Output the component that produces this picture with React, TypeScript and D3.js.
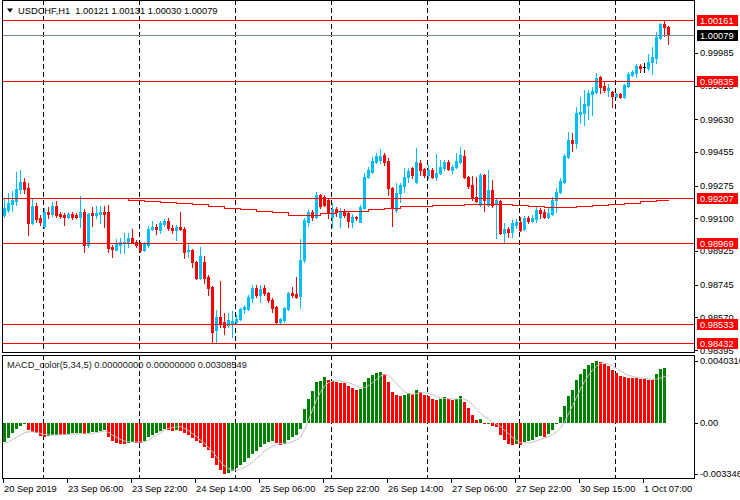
import React from "react";
import * as d3 from "d3";

const titleSymbol = "USDCHF,H1";
const titleOhlc = ["1.00121", "1.00131", "1.00030", "1.00079"];
const macdTitle = "MACD_color(5,34,5) 0.00000000 0.00000000 0.00308549";

const opens = [
  0.99118,0.99145,0.99177,0.99193,0.99257,0.99295,0.99263,0.99075,0.99166,0.99102,
  0.99059,0.99134,0.99124,0.99166,0.99124,0.99118,0.99108,0.99124,0.99118,0.99108,
  0.99134,0.98958,0.99129,0.99118,0.99124,0.99134,0.99134,0.98947,0.98931,0.98958,
  0.98968,0.98968,0.98995,0.98974,0.98963,0.98931,0.98958,0.99043,0.99054,0.99038,
  0.99070,0.99086,0.99049,0.99038,0.99054,0.99043,0.98926,0.98931,0.98867,0.98781,
  0.98867,0.98787,0.98733,0.98503,0.98573,0.98546,0.98530,0.98541,0.98546,0.98562,
  0.98615,0.98615,0.98674,0.98728,0.98690,0.98728,0.98701,0.98664,0.98626,0.98546,
  0.98557,0.98615,0.98701,0.98696,0.98685,0.98878,0.99081,0.99134,0.99108,0.99225,
  0.99214,0.99198,0.99108,0.99150,0.99108,0.99140,0.99129,0.99081,0.99108,0.99081,
  0.99156,0.99321,0.99348,0.99402,0.99412,0.99439,0.99407,0.99263,0.99145,0.99236,
  0.99273,0.99321,0.99370,0.99295,0.99396,0.99364,0.99332,0.99359,0.99321,0.99343,
  0.99370,0.99402,0.99359,0.99375,0.99402,0.99434,0.99321,0.99279,0.99214,0.99172,
  0.99332,0.99172,0.99252,0.99182,0.99193,0.99022,0.99043,0.99027,0.99065,0.99081,
  0.99043,0.99102,0.99086,0.99097,0.99145,0.99134,0.99108,0.99124,0.99198,0.99241,
  0.99295,0.99428,0.99519,0.99503,0.99658,0.99664,0.99706,0.99765,0.99776,0.99856,
  0.99808,0.99787,0.99776,0.99755,0.99765,0.99749,0.99808,0.99867,0.99878,0.99915,
  0.99910,0.99904,0.99936,0.99958,1.00065,1.00140,1.00121,
];
const highs = [
  0.99204,0.99236,0.99247,0.99348,0.99359,0.99316,0.99289,0.99209,0.99182,0.99118,
  0.99156,0.99161,0.99188,0.99193,0.99134,0.99129,0.99134,0.99134,0.99129,0.99220,
  0.99150,0.99129,0.99161,0.99166,0.99166,0.99166,0.99172,0.98958,0.98990,0.98995,
  0.99022,0.99022,0.99043,0.98984,0.98974,0.98974,0.99059,0.99086,0.99070,0.99086,
  0.99097,0.99102,0.99065,0.99065,0.99134,0.99054,0.98963,0.98936,0.98872,0.98947,
  0.98899,0.98797,0.98738,0.98610,0.98765,0.98594,0.98594,0.98605,0.98583,0.98621,
  0.98637,0.98690,0.98744,0.98744,0.98744,0.98744,0.98706,0.98674,0.98631,0.98567,
  0.98626,0.98706,0.98733,0.98787,0.98990,0.99102,0.99145,0.99145,0.99241,0.99231,
  0.99225,0.99209,0.99182,0.99161,0.99156,0.99150,0.99134,0.99124,0.99113,0.99172,
  0.99343,0.99375,0.99428,0.99450,0.99471,0.99450,0.99423,0.99268,0.99289,0.99289,
  0.99370,0.99370,0.99375,0.99476,0.99412,0.99370,0.99386,0.99370,0.99444,0.99412,
  0.99412,0.99412,0.99386,0.99450,0.99482,0.99466,0.99327,0.99327,0.99321,0.99343,
  0.99337,0.99359,0.99305,0.99204,0.99198,0.99075,0.99054,0.99091,0.99097,0.99108,
  0.99113,0.99113,0.99118,0.99161,0.99156,0.99150,0.99156,0.99214,0.99263,0.99316,
  0.99444,0.99562,0.99557,0.99696,0.99749,0.99787,0.99787,0.99803,0.99878,0.99862,
  0.99829,0.99819,0.99781,0.99771,0.99771,0.99819,0.99883,0.99894,0.99926,0.99926,
  0.99931,0.99979,1.00017,1.00097,1.00145,1.00161,1.00131,
];
const lows = [
  0.99108,0.99134,0.99140,0.99172,0.99236,0.99236,0.99011,0.99070,0.99081,0.99065,
  0.99049,0.99102,0.99113,0.99108,0.99102,0.99065,0.99102,0.99097,0.99102,0.99054,
  0.98920,0.98947,0.99059,0.99102,0.99075,0.99054,0.98920,0.98894,0.98931,0.98915,
  0.98915,0.98947,0.98968,0.98947,0.98920,0.98926,0.98947,0.99038,0.99017,0.99022,
  0.99059,0.99038,0.99022,0.98984,0.99038,0.98888,0.98894,0.98840,0.98776,0.98776,
  0.98755,0.98690,0.98434,0.98432,0.98519,0.98482,0.98519,0.98466,0.98541,0.98557,
  0.98594,0.98610,0.98653,0.98680,0.98653,0.98690,0.98653,0.98599,0.98535,0.98541,
  0.98546,0.98610,0.98680,0.98674,0.98621,0.98867,0.99059,0.99091,0.99102,0.99156,
  0.99166,0.99102,0.99054,0.99113,0.99054,0.99108,0.99054,0.99054,0.99091,0.99081,
  0.99150,0.99316,0.99343,0.99396,0.99396,0.99386,0.99225,0.99059,0.99134,0.99188,
  0.99241,0.99295,0.99316,0.99289,0.99332,0.99321,0.99316,0.99316,0.99305,0.99337,
  0.99359,0.99359,0.99343,0.99370,0.99396,0.99316,0.99263,0.99198,0.99188,0.99166,
  0.99140,0.99166,0.99161,0.98995,0.99017,0.98968,0.99001,0.99001,0.99049,0.99033,
  0.99038,0.99075,0.99081,0.99081,0.99102,0.99102,0.99102,0.99118,0.99134,0.99236,
  0.99289,0.99423,0.99460,0.99476,0.99610,0.99600,0.99632,0.99653,0.99771,0.99771,
  0.99776,0.99755,0.99696,0.99749,0.99744,0.99744,0.99803,0.99862,0.99856,0.99883,
  0.99883,0.99894,0.99872,0.99931,1.00059,1.00075,1.00030,
];
const closes = [
  0.99156,0.99182,0.99198,0.99257,0.99295,0.99257,0.99075,0.99166,0.99097,0.99081,
  0.99134,0.99124,0.99166,0.99118,0.99113,0.99108,0.99124,0.99108,0.99108,0.99134,
  0.98958,0.99124,0.99118,0.99129,0.99134,0.99124,0.98942,0.98936,0.98968,0.98974,
  0.98974,0.98995,0.98974,0.98958,0.98931,0.98968,0.99043,0.99054,0.99043,0.99075,
  0.99086,0.99049,0.99038,0.99054,0.99043,0.98920,0.98931,0.98867,0.98781,0.98899,
  0.98781,0.98728,0.98492,0.98573,0.98541,0.98519,0.98557,0.98551,0.98562,0.98615,
  0.98626,0.98680,0.98728,0.98690,0.98722,0.98701,0.98664,0.98621,0.98546,0.98562,
  0.98621,0.98701,0.98690,0.98680,0.98878,0.99091,0.99134,0.99108,0.99225,0.99166,
  0.99172,0.99134,0.99150,0.99134,0.99140,0.99118,0.99086,0.99108,0.99102,0.99161,
  0.99321,0.99359,0.99407,0.99434,0.99434,0.99402,0.99263,0.99156,0.99236,0.99279,
  0.99321,0.99354,0.99332,0.99402,0.99359,0.99332,0.99359,0.99321,0.99343,0.99375,
  0.99402,0.99364,0.99375,0.99407,0.99439,0.99321,0.99273,0.99209,0.99193,0.99332,
  0.99198,0.99252,0.99172,0.99198,0.99022,0.99043,0.99027,0.99075,0.99081,0.99038,
  0.99102,0.99086,0.99102,0.99145,0.99129,0.99108,0.99129,0.99198,0.99241,0.99300,
  0.99434,0.99519,0.99503,0.99664,0.99669,0.99712,0.99771,0.99781,0.99851,0.99803,
  0.99787,0.99797,0.99755,0.99765,0.99749,0.99813,0.99872,0.99883,0.99915,0.99904,
  0.99910,0.99936,0.99963,1.00070,1.00140,1.00121,1.00079,
];

const priceTicks = [0.99985, 0.9981, 0.9963, 0.99455, 0.99275, 0.991, 0.98925, 0.98745, 0.9857, 0.98395];
const levelLines = [1.00161, 0.99835, 0.99207, 0.98969, 0.98533, 0.98432];
const bidPrice = 1.00079;

const maBars = [27,31,35,39,43,47,51,55,59,63,67,71,75,79,83,87,91,95,99,103,107,111,115,119,123,127,131,135,139,143,147,151,155,159,163,166];
const maValues = [
  0.99204,0.99195,0.99189,0.99186,0.99181,0.99172,0.99161,0.99153,0.99145,0.99137,
  0.99129,0.99118,0.99115,0.99126,0.99136,0.99136,0.99145,0.99154,0.99161,0.99165,
  0.99170,0.99170,0.99175,0.99175,0.99175,0.99170,0.99163,0.99157,0.99156,0.99161,
  0.99168,0.99175,0.99182,0.99190,0.99197,0.99201,
];

const histValues = [
  -0.00124,-0.00102,-0.00070,-0.00044,-0.00022,-0.00008,-0.00048,-0.00059,-0.00065,-0.00087,
  -0.00096,-0.00087,-0.00080,-0.00078,-0.00080,-0.00083,-0.00074,-0.00070,-0.00067,-0.00065,
  -0.00074,-0.00070,-0.00063,-0.00059,-0.00054,-0.00048,-0.00096,-0.00118,-0.00131,-0.00139,
  -0.00140,-0.00131,-0.00126,-0.00129,-0.00131,-0.00122,-0.00096,-0.00080,-0.00070,-0.00054,
  -0.00044,-0.00048,-0.00054,-0.00048,-0.00052,-0.00065,-0.00078,-0.00098,-0.00121,-0.00135,
  -0.00157,-0.00178,-0.00233,-0.00276,-0.00309,-0.003346,-0.00326,-0.00313,-0.00298,-0.00276,
  -0.00255,-0.00233,-0.00204,-0.00183,-0.00161,-0.00139,-0.00124,-0.00118,-0.00131,-0.00146,
  -0.00139,-0.00113,-0.00096,-0.00080,-0.00044,0.00093,0.00152,0.00209,0.00268,0.00274,
  0.00296,0.00279,0.00274,0.00268,0.00261,0.00259,0.00240,0.00227,0.00213,0.00220,
  0.00266,0.00292,0.00311,0.00324,0.00331,0.00318,0.00266,0.00200,0.00181,0.00174,
  0.00181,0.00194,0.00187,0.00213,0.00200,0.00181,0.00174,0.00155,0.00148,0.00155,
  0.00168,0.00155,0.00148,0.00155,0.00174,0.00135,0.00096,0.00050,0.00018,0.00023,
  -0.00008,-0.00002,-0.00022,-0.00028,-0.00080,-0.00113,-0.00139,-0.00146,-0.00139,-0.00146,
  -0.00126,-0.00119,-0.00113,-0.00093,-0.00087,-0.00090,-0.00074,-0.00048,-0.00008,0.00037,
  0.00109,0.00174,0.00213,0.00279,0.00318,0.00351,0.00377,0.00390,0.004031,0.00396,
  0.00383,0.00370,0.00344,0.00324,0.00305,0.00298,0.00293,0.00292,0.00290,0.00285,
  0.00284,0.00280,0.00279,0.00318,0.00351,0.00357,0,
];
const signalValues = [
  -0.00139,-0.00124,-0.00109,-0.00096,-0.00080,-0.00065,-0.00059,-0.00059,-0.00063,-0.00070,
  -0.00076,-0.00080,-0.00080,-0.00080,-0.00078,-0.00078,-0.00076,-0.00074,-0.00074,-0.00072,
  -0.00072,-0.00072,-0.00070,-0.00065,-0.00059,-0.00054,-0.00063,-0.00080,-0.00096,-0.00109,
  -0.00119,-0.00124,-0.00126,-0.00126,-0.00126,-0.00124,-0.00113,-0.00096,-0.00080,-0.00065,
  -0.00048,-0.00037,-0.00031,-0.00026,-0.00026,-0.00037,-0.00052,-0.00070,-0.00091,-0.00113,
  -0.00135,-0.00161,-0.00189,-0.00222,-0.00255,-0.00283,-0.00300,-0.00309,-0.00309,-0.00302,
  -0.00292,-0.00276,-0.00255,-0.00233,-0.00211,-0.00185,-0.00168,-0.00152,-0.00142,-0.00135,
  -0.00135,-0.00131,-0.00124,-0.00113,-0.00096,-0.00048,0.00018,0.00083,0.00148,0.00202,
  0.00240,0.00261,0.00272,0.00274,0.00272,0.00268,0.00261,0.00253,0.00240,0.00229,
  0.00231,0.00242,0.00261,0.00283,0.00305,0.00315,0.00309,0.00285,0.00257,0.00229,
  0.00202,0.00189,0.00185,0.00191,0.00196,0.00196,0.00191,0.00183,0.00172,0.00163,
  0.00159,0.00157,0.00155,0.00155,0.00157,0.00155,0.00142,0.00119,0.00089,0.00063,
  0.00041,0.00022,0.00005,-0.00008,-0.00026,-0.00048,-0.00072,-0.00096,-0.00116,-0.00129,
  -0.00133,-0.00131,-0.00126,-0.00118,-0.00109,-0.00100,-0.00091,-0.00078,-0.00061,-0.00035,
  0.00005,0.00057,0.00111,0.00165,0.00220,0.00268,0.00309,0.00344,0.00370,0.00387,
  0.00390,0.00383,0.00370,0.00355,0.00338,0.00322,0.00311,0.00302,0.00296,0.00292,
  0.00289,0.00286,0.00284,0.00285,0.00292,0.00300,0.0030855,
];
const macdTicks = [0.004031, 0, -0.003346];
const macdTickLabels = ["0.0040310", "0.00", "-0.003346"];

const timeLabelBars = [0, 16, 32, 48, 64, 80, 96, 112, 128, 144, 160];
const timeLabels = [
  "20 Sep 2019", "23 Sep 06:00", "23 Sep 22:00", "24 Sep 14:00", "25 Sep 06:00",
  "25 Sep 22:00", "26 Sep 14:00", "27 Sep 06:00", "27 Sep 22:00", "30 Sep 15:00", "1 Oct 07:00",
];
const daySeparatorBars = [10, 34, 58, 82, 106, 129, 153];

const BULL = "#00BFFF";
const BEAR = "#FF0000";
const FONT = "'Liberation Sans', Arial, sans-serif";
const FS = 9.3;

export default function App() {
  const plotL = 2, plotR = 694;
  const mainTop = 0, mainBottom = 352;
  const macdTop = 355, macdBottom = 478;
  const n = closes.length;

  const x = d3.scaleLinear().domain([0, n - 1]).range([4, 4 + 4 * (n - 1)]);
  const yP = d3.scaleLinear().domain([0.98432, 1.00161]).range([343.3, 20]);
  const yM = d3.scaleLinear().domain([-0.003346, 0.004031]).range([474, 361]);

  const maLine = d3
    .line<number>()
    .x((_, k) => x(maBars[k]))
    .y((v) => yP(v))
    .curve(d3.curveStepAfter);

  const sigLine = d3
    .line<number>()
    .x((_, k) => x(k) + 0.5)
    .y((v) => yM(v));

  const zeroY = Math.round(yM(0));

  return (
    <div style={{ position: "fixed", left: 0, top: 0 }}>
      <svg width={740} height={500} style={{ display: "block", background: "#fff" }} fontFamily={FONT} fontSize={FS}>
        <defs>
          <clipPath id="mainClip">
            <rect x={plotL + 1} y={mainTop + 1} width={plotR - plotL - 1} height={mainBottom - mainTop - 1} />
          </clipPath>
          <clipPath id="macdClip">
            <rect x={plotL + 1} y={macdTop + 1} width={plotR - plotL - 1} height={macdBottom - macdTop - 1} />
          </clipPath>
        </defs>
        <rect x={0} y={0} width={740} height={500} fill="#fff" />

        {/* main panel */}
        <g clipPath="url(#mainClip)" shapeRendering="crispEdges">
          {daySeparatorBars.map((b) => (
            <line key={"ds" + b} x1={x(b) - 0.5} x2={x(b) - 0.5} y1={mainTop} y2={mainBottom} stroke="#000" strokeDasharray="5,3" />
          ))}
          {closes.map((c, i) => {
            const o = opens[i];
            const cx = x(i);
            const col = c > o ? BULL : c < o ? BEAR : "#000";
            const top = Math.round(yP(Math.max(o, c)));
            const bot = Math.round(yP(Math.min(o, c)));
            const hy = Math.round(yP(Math.max(highs[i], o, c)));
            const ly = Math.round(yP(Math.min(lows[i], o, c)));
            return (
              <g key={"c" + i}>
                <rect x={cx} y={hy} width={1} height={Math.max(1, ly - hy + 1)} fill={col} />
                <rect x={cx - 1} y={top} width={3} height={Math.max(1, bot - top + 1)} fill={col} />
              </g>
            );
          })}
          <path d={maLine(maValues) || ""} fill="none" stroke={BEAR} strokeWidth={1} />
          {levelLines.map((p) => (
            <line key={"lv" + p} x1={plotL} x2={plotR} y1={Math.round(yP(p)) + 0.5} y2={Math.round(yP(p)) + 0.5} stroke={BEAR} />
          ))}
          <line x1={plotL} x2={plotR} y1={Math.round(yP(bidPrice)) + 0.5} y2={Math.round(yP(bidPrice)) + 0.5} stroke="#778899" />
        </g>

        {/* macd panel */}
        <g clipPath="url(#macdClip)" shapeRendering="crispEdges">
          {daySeparatorBars.map((b) => (
            <line key={"dm" + b} x1={x(b) - 0.5} x2={x(b) - 0.5} y1={macdTop} y2={macdBottom} stroke="#000" strokeDasharray="5,3" />
          ))}
          {histValues.map((v, i) => {
            if (v === 0) return null;
            const prev = i > 0 ? histValues[i - 1] : -Infinity;
            const col = v > prev ? "#008000" : "#FF0000";
            const yv = Math.round(yM(v));
            const y0 = Math.min(yv, zeroY);
            const h = Math.max(1, Math.abs(yv - zeroY));
            return <rect key={"h" + i} x={x(i) - 1} y={y0} width={3} height={h} fill={col} />;
          })}
        </g>
        <g clipPath="url(#macdClip)">
          <path d={sigLine(signalValues) || ""} fill="none" stroke="#C0C0C0" strokeWidth={1} />
        </g>
        <text x={7} y={368.3} fill="#1a1a1a">{macdTitle}</text>

        {/* frames */}
        <g shapeRendering="crispEdges" stroke="#000" fill="none">
          <line x1={plotL + 0.5} x2={plotL + 0.5} y1={mainTop} y2={mainBottom} />
          <line x1={plotL} x2={plotR} y1={mainTop + 0.5} y2={mainTop + 0.5} />
          <line x1={plotL} x2={plotR + 1} y1={mainBottom + 0.5} y2={mainBottom + 0.5} />
          <line x1={plotL + 0.5} x2={plotL + 0.5} y1={macdTop} y2={macdBottom} />
          <line x1={plotL} x2={plotR + 1} y1={macdTop + 0.5} y2={macdTop + 0.5} />
          <line x1={plotL} x2={plotR + 1} y1={macdBottom + 0.5} y2={macdBottom + 0.5} />
          <line x1={plotR + 0.5} x2={plotR + 0.5} y1={0} y2={mainBottom + 1} />
          <line x1={plotR + 0.5} x2={plotR + 0.5} y1={macdTop} y2={macdBottom + 1} />
        </g>

        {/* price axis */}
        {priceTicks.map((t) => {
          const yy = yP(t);
          return (
            <g key={"pt" + t}>
              <line x1={plotR} x2={plotR + 4} y1={Math.round(yy) + 0.5} y2={Math.round(yy) + 0.5} stroke="#000" shapeRendering="crispEdges" />
              <text x={700} y={yy + 3.3} fill="#000">{t.toFixed(5)}</text>
            </g>
          );
        })}
        {levelLines.map((p) => {
          const yy = Math.round(yP(p));
          return (
            <g key={"lb" + p}>
              <rect x={697} y={yy - 5} width={41} height={11} fill={BEAR} />
              <text x={700} y={yy + 3.8} fill="#fff">{p.toFixed(5)}</text>
            </g>
          );
        })}
        {(() => {
          const yy = Math.round(yP(bidPrice));
          return (
            <g>
              <rect x={697} y={yy - 5} width={41} height={11} fill="#000" />
              <text x={700} y={yy + 3.8} fill="#fff">{bidPrice.toFixed(5)}</text>
            </g>
          );
        })()}

        {/* macd axis */}
        {macdTicks.map((t, k) => {
          const yy = yM(t);
          return (
            <g key={"mt" + k}>
              <line x1={plotR} x2={plotR + 4} y1={Math.round(yy) + 0.5} y2={Math.round(yy) + 0.5} stroke="#000" shapeRendering="crispEdges" />
              <text x={700} y={yy + 3.3} fill="#000">{macdTickLabels[k]}</text>
            </g>
          );
        })}

        {/* time axis */}
        {timeLabelBars.map((b, k) => {
          const tx = x(b) - 0.5;
          return (
            <g key={"tl" + b}>
              <line x1={tx} x2={tx} y1={macdBottom} y2={macdBottom + 5} stroke="#000" shapeRendering="crispEdges" />
              <text x={tx + 0.5} y={492} fill="#000">{timeLabels[k]}</text>
            </g>
          );
        })}

        {/* title */}
        <polygon points="7,8.5 13,8.5 10,12.5" fill="#000" />
        <text x={18} y={13.5} fill="#000" style={{ whiteSpace: "pre" }}>
          {titleSymbol + "  " + titleOhlc.join(" ")}
        </text>
      </svg>
    </div>
  );
}
